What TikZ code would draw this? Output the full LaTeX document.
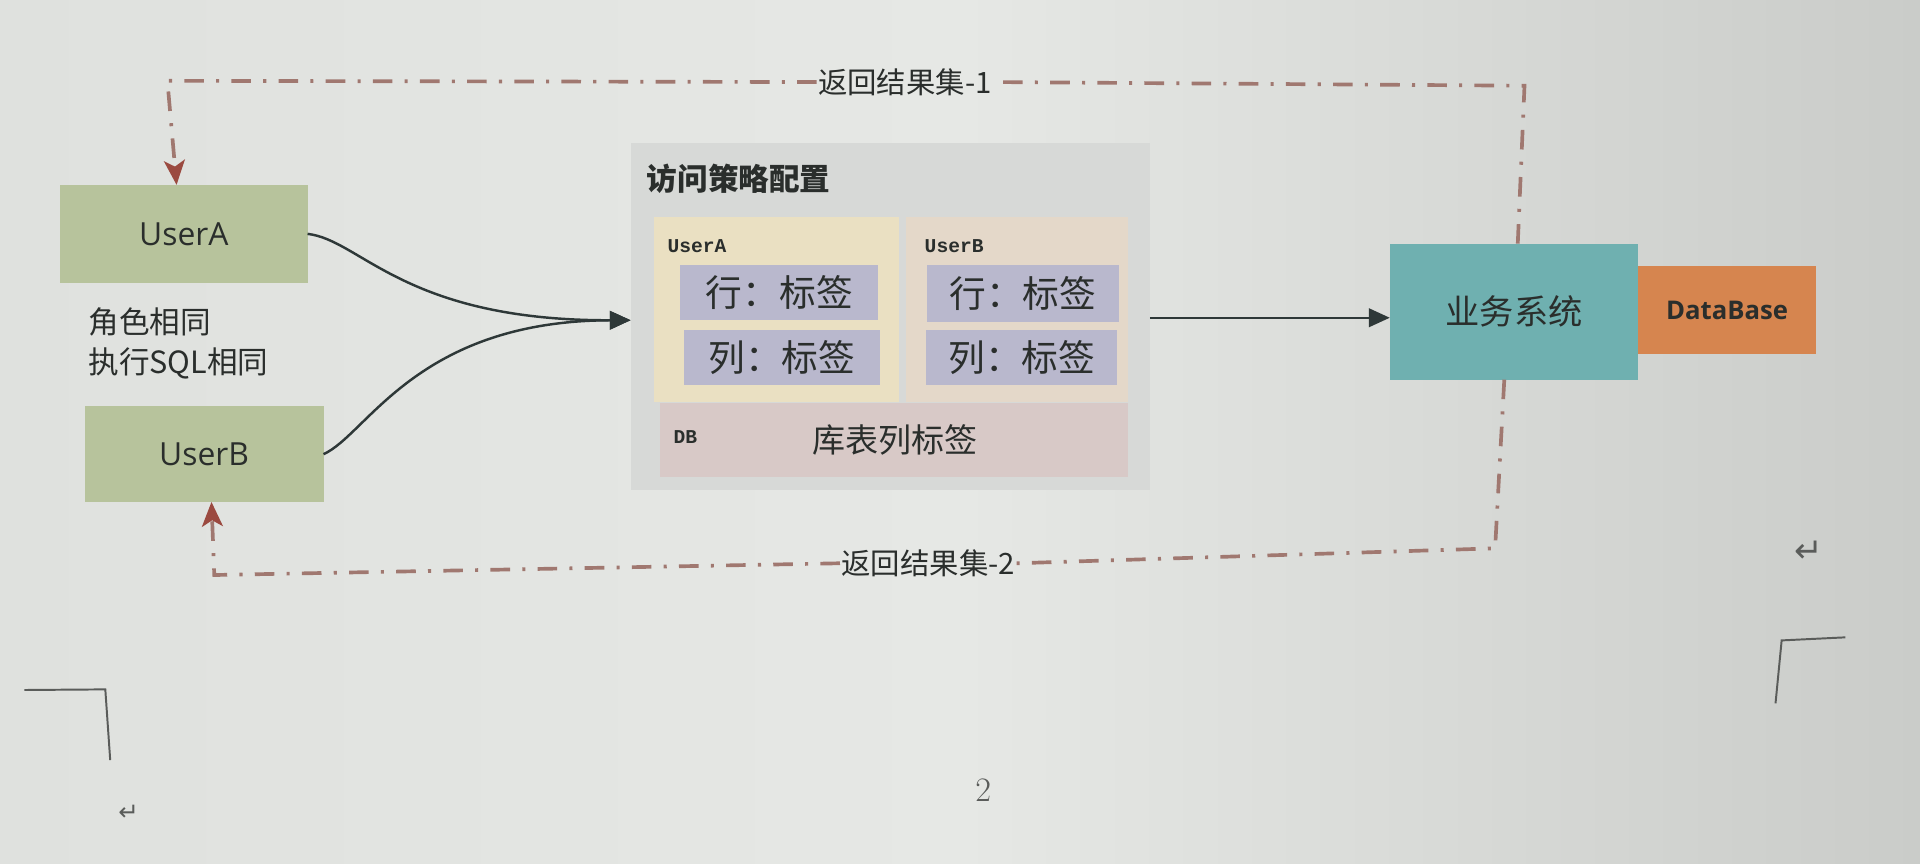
\documentclass[tikz,border=0pt]{standalone}
\usepackage{fontspec}
\newfontfamily\cjk{Noto Sans CJK SC}
\newfontfamily\latsans{Open Sans}
\newfontfamily\monof{Liberation Mono}
\newfontfamily\symf{DejaVu Sans}
\usetikzlibrary{arrows.meta}
\definecolor{bgL}{HTML}{DFE1DE}
\definecolor{bgM}{HTML}{E6E8E5}
\definecolor{bgR}{HTML}{CACCC9}
\definecolor{userg}{HTML}{B7C39C}
\definecolor{cfggray}{HTML}{D7D9D7}
\definecolor{cfgyel}{HTML}{EAE0C2}
\definecolor{cfgpeach}{HTML}{E4D8C9}
\definecolor{tagpur}{HTML}{B9B8CD}
\definecolor{dbpink}{HTML}{D8C9C7}
\definecolor{bizteal}{HTML}{6FB0B0}
\definecolor{dborange}{HTML}{D6854F}
\definecolor{retline}{HTML}{A07870}
\definecolor{rethead}{HTML}{9B4A40}
\definecolor{flowc}{HTML}{2E3838}
\definecolor{txt}{HTML}{2A2E2C}
\definecolor{pagemark}{HTML}{5A5C5A}
\tikzset{
  box/.style={rectangle, inner sep=0pt, outer sep=0pt, draw=none},
  ubox/.style={box, fill=userg, minimum width=202pt, minimum height=80pt,
    font=\latsans\fontsize{26}{30}\selectfont, text=txt},
  cfgbox/.style={box, fill=cfggray},
  innerbox/.style={box},
  tagbox/.style={box, fill=tagpur, font=\cjk\fontsize{30}{34}\selectfont, text=txt},
  smalllab/.style={inner sep=0pt, anchor=west, font=\monof\bfseries\fontsize{16}{18}\selectfont, text=txt},
  cjktext/.style={inner sep=0pt, font=\cjk\fontsize{#1}{#1}\selectfont, text=txt},
  flow/.style={draw=flowc, line width=2pt, -{Triangle[length=17pt,width=15pt]}},
  ret/.style={draw=retline, line width=3pt, dash pattern=on 16pt off 10pt on 2.5pt off 10pt},
  rettip/.style={-{Stealth[length=20pt,width=17pt,inset=5pt,color=rethead]}},
  retlab/.style={inner sep=1pt, font=\cjk\fontsize{24}{28}\selectfont, text=txt},
  pagemk/.style={draw=pagemark, line width=1.6pt},
}
\begin{document}
\begin{tikzpicture}[x=1pt,y=-1pt]
% background
\shade[left color=bgL, right color=bgR, middle color=bgM] (0,0) rectangle (1568,705.6);
\path[use as bounding box] (0,0) rectangle (1568,705.6);

% users
\node[ubox] (userA) at (150.2,191) {UserA};
\node[ubox, minimum width=195pt, minimum height=78pt] (userB) at (166.7,370.9) {UserB};
\node[cjktext=25, align=left, anchor=west, font=\cjk\fontsize{25}{33}\selectfont] (note) at (72,280.5) {角色相同\\执行SQL相同};

% access policy configuration
\node[cfgbox, minimum width=424pt, minimum height=283pt] (config) at (727,258.5) {};
\node[cjktext=25, anchor=west, font=\cjk\bfseries\fontsize{25}{25}\selectfont] (cfgtitle) at (528,146) {访问策略配置};
\node[innerbox, fill=cfgyel, minimum width=200pt, minimum height=151pt] (cfgA) at (634.2,252.5) {};
\node[innerbox, fill=cfgpeach, minimum width=181pt, minimum height=151pt] (cfgB) at (830.4,252.5) {};
\node[smalllab] (labA) at (545,201) {UserA};
\node[smalllab] (labB) at (755,201) {UserB};
\node[tagbox, minimum width=162pt, minimum height=45pt] (rowA) at (636.4,238.9) {行：标签};
\node[tagbox, minimum width=160pt, minimum height=45pt] (colA) at (638.5,292) {列：标签};
\node[tagbox, minimum width=157pt, minimum height=46pt] (rowB) at (835.3,239.6) {行：标签};
\node[tagbox, minimum width=156pt, minimum height=45pt] (colB) at (834.6,292) {列：标签};
\node[box, fill=dbpink, minimum width=382pt, minimum height=60pt] (db) at (729.9,359.4) {};
\node[smalllab] (labDB) at (550,357) {DB};
\node[cjktext=27] (dbtext) at (731,359.5) {库表列标签};

% business system and database
\node[box, fill=bizteal, minimum width=203pt, minimum height=111pt,
  font=\cjk\fontsize{28}{30}\selectfont, text=txt] (biz) at (1236.5,254.5) {业务系统};
\node[box, fill=dborange, minimum width=145pt, minimum height=72pt,
  font=\latsans\bfseries\fontsize{21}{24}\selectfont, text=txt] (dbase) at (1410.5,253.5) {DataBase};

% flows
\coordinate (merge) at ([yshift=-3pt]config.west);
\draw[flow] (userA.east) .. controls (295,196) and (330,262) .. (merge);
\draw[flow] (userB.east) .. controls (300,355) and (340,262) .. (merge);
\draw[flow] ([yshift=-1pt]config.east) -- ([yshift=-1pt]config.east -| biz.west);

% return result set 1
\coordinate (tr) at (1245,70);
\coordinate (tl) at (136.7,66);
\node[retlab] (lab1) at (739,67) {返回结果集-1};
\draw[ret] ([xshift=3pt]biz.north) -- (tr) -- (lab1.east);
\draw[ret, rettip] (lab1.west) -- (tl) -- ([xshift=-6pt]userA.north);

% return result set 2
\coordinate (br) at (1221,447.8);
\coordinate (bl) at (175,469.6);
\node[retlab] (lab2) at (758,460) {返回结果集-2};
\draw[ret] ([xshift=-8pt]biz.south) -- (br) -- (lab2.east);
\draw[ret, rettip] (lab2.west) -- (bl) -- ([xshift=6pt]userB.south);

% page artifacts
\coordinate (cl1) at (20,563.5);
\coordinate (cl2) at (86,563);
\coordinate (cl3) at (90,620.7);
\draw[pagemk] (cl1) -- (cl2) -- (cl3);
\coordinate (cr1) at (1507,520.5);
\coordinate (cr2) at (1455,523);
\coordinate (cr3) at (1450,574.4);
\draw[pagemk] (cr1) -- (cr2) -- (cr3);
\node[text=pagemark, font=\fontsize{28}{30}\selectfont] (pnum) at (803,645) {2};
\node[text=pagemark, font=\symf\fontsize{20}{22}\selectfont] (ret1) at (105,664) {↵};
\node[text=pagemark, font=\symf\fontsize{28}{30}\selectfont] (ret2) at (1477,450.5) {↵};
\end{tikzpicture}
\end{document}
